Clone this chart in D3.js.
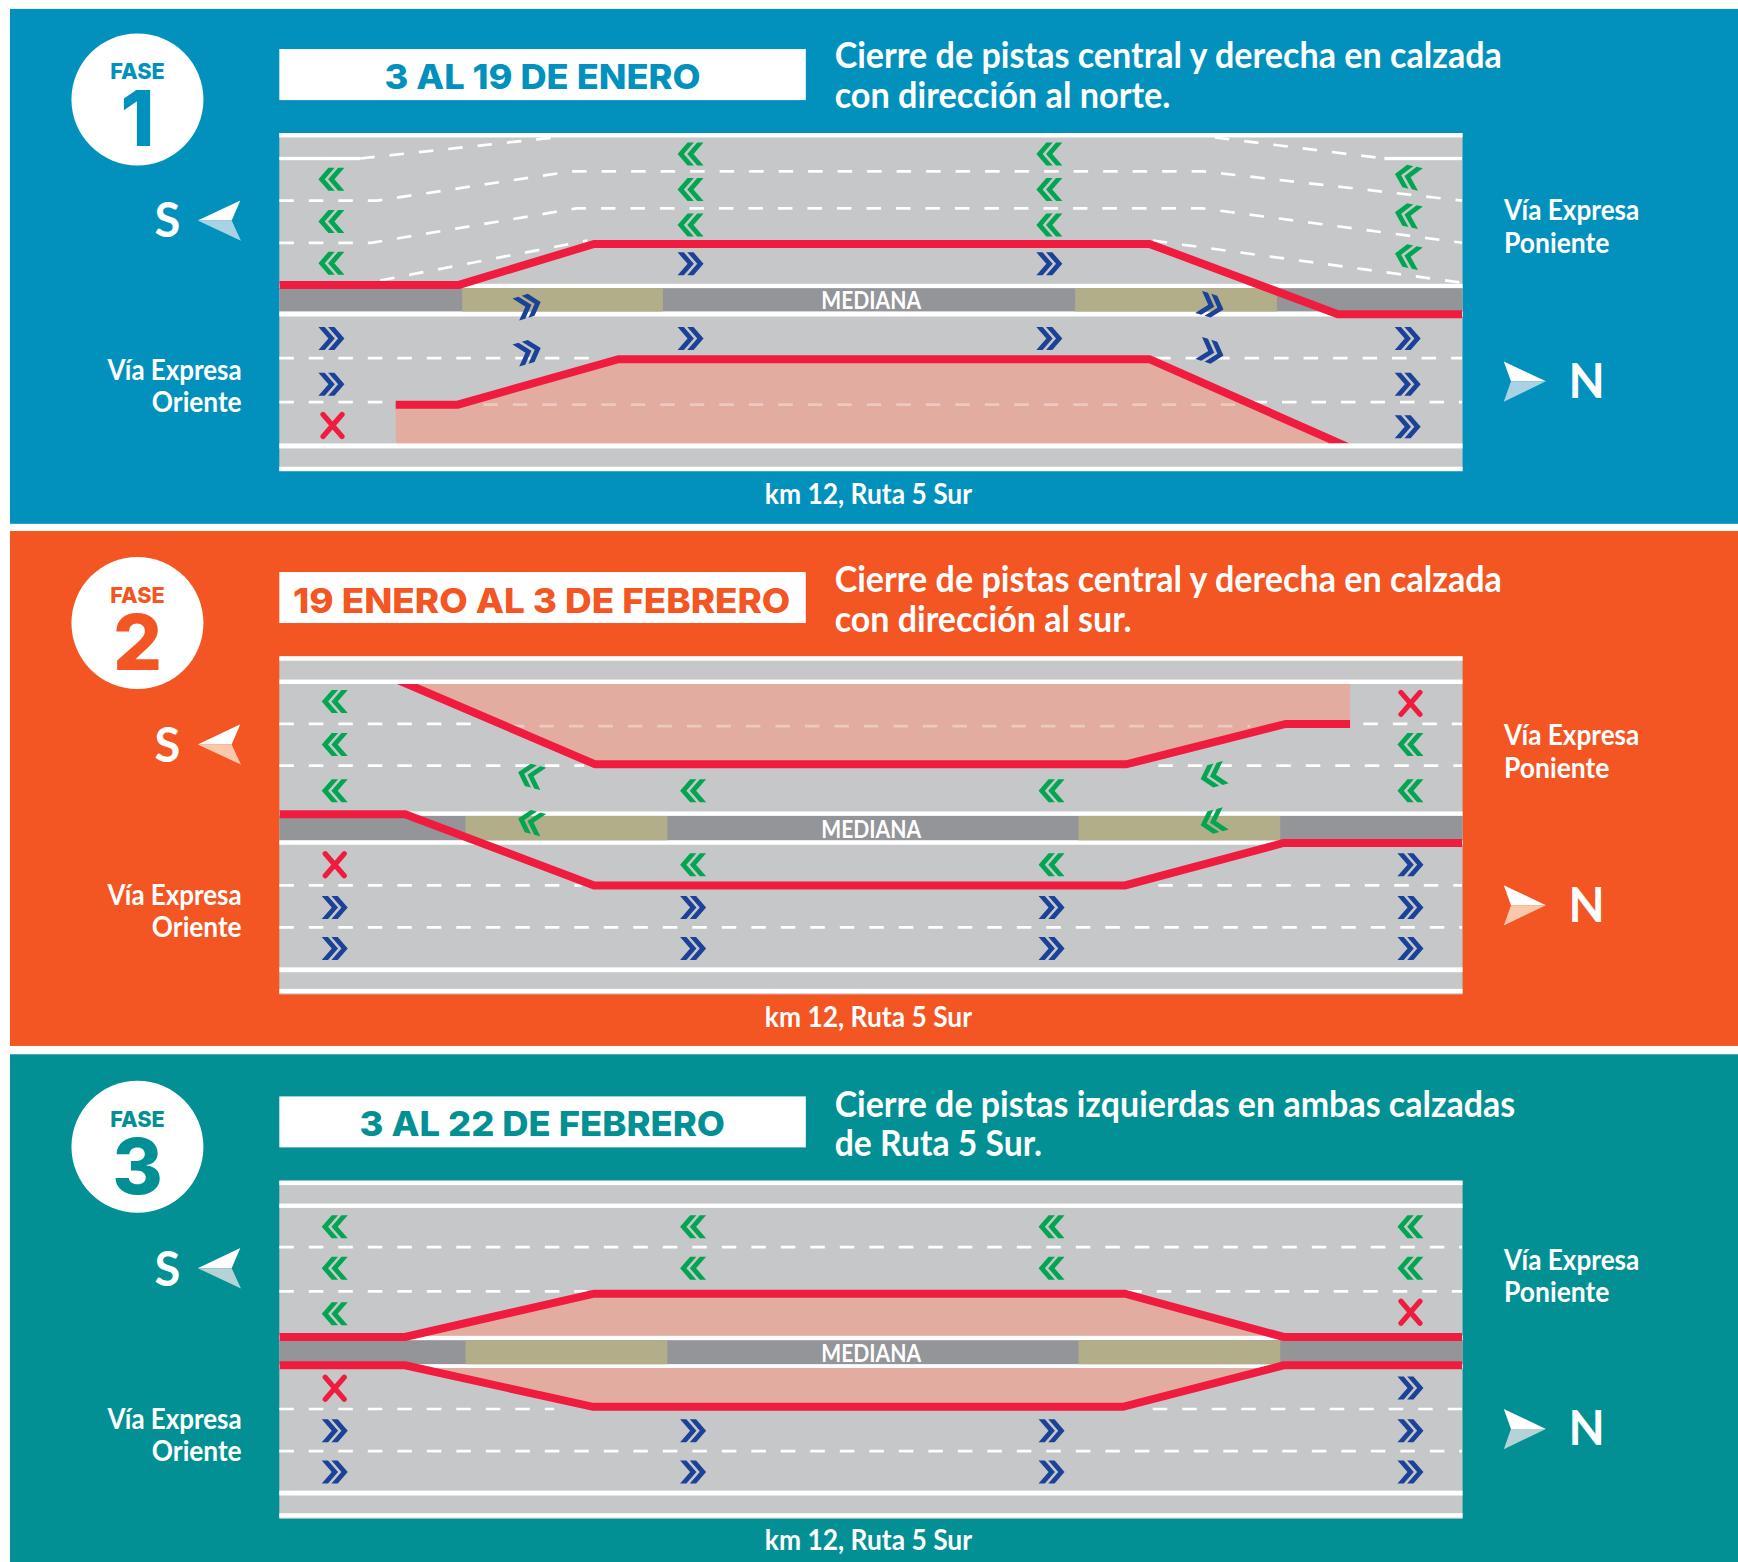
<!DOCTYPE html>
<html lang="es">
<head>
<meta charset="utf-8">
<title>Fases de cierre de pistas, km 12 Ruta 5 Sur</title>
<script src="https://cdn.jsdelivr.net/npm/d3@7"></script>
<style>
html,body{margin:0;padding:0;background:#fff}
svg{display:block}
text{font-family:Lato,"Open Sans",sans-serif;font-weight:700;fill:#fff}
.brand{font-family:Inter,Lato,sans-serif;font-weight:800}
</style>
</head>
<body>
<div id="chart"></div>
<script>
// ---------- content ----------
const phaseNumbers = ["1", "2", "3"];
const phaseWord = "FASE";
const phaseDates = ["3 AL 19 DE ENERO", "19 ENERO AL 3 DE FEBRERO", "3 AL 22 DE FEBRERO"];
const descFirst = ["Cierre de pistas central y derecha en calzada", "Cierre de pistas central y derecha en calzada", "Cierre de pistas izquierdas en ambas calzadas"];
const descSecond = ["con dirección al norte.", "con dirección al sur.", "de Ruta 5 Sur."];
const placeLabel = "km 12, Ruta 5 Sur";
const medianLabel = "MEDIANA";
const westLabel = ["Vía Expresa", "Poniente"];
const eastLabel = ["Vía Expresa", "Oriente"];

// ---------- road readings: [station along road, offset across road] ----------
const closureLines = [
  [[[252,137],[414,137],[536,100],[1037,100],[1207,163.4],[1319,163.4]],
   [[357,245],[413,245],[558,204],[1037,204],[1220,285]]],
  [[[360,21.8],[537,97.5],[1016,97.5],[1160,61],[1218,61]],
   [[252,142.4],[365.5,142.4],[536,206.7],[1015,206.7],[1158,168.4],[1319,168.4]]],
  [[[252,141],[365.5,141],[536,102],[1015,102],[1158,141],[1319,141]],
   [[252,166.6],[365.5,166.6],[535,204],[1013,204],[1158,166.6],[1319,166.6]]]
];
const closedAreas = [
  [[[357,245],[413,245],[558,204],[1037,204],[1210,281],[357,281]]],
  [[[368,25],[537,97],[1016,97],[1160,61],[1218,61],[1218,25]]],
  [[[381,140],[536,102],[1015,102],[1152,140]],
   [[378,169],[535,204],[1013,204],[1152,169]]]
];
const laneDashes = [
  [[[325,23],[500,4]],[[1096,4],[1249,23]],
   [[252,61],[340,61],[516,34.5],[1085,34.5],[1319,61]],
   [[252,99],[335,99],[520,68],[1085,68],[1319,99]],
   [[343,133],[530,97]],[[1040,97],[1319,135]],
   [[252,203],[540,203]],[[1043,203],[1319,203]],
   [[252,242.7],[357,242.7]],[[1130,242.7],[1319,242.7]]],
  [[[252,61],[436,61]],[[1230,61],[1319,61]],
   [[252,98.7],[527,98.7]],[[1045,98.7],[1319,98.7]],
   [[252,206.7],[525,206.7]],[[1045,206.7],[1319,206.7]],
   [[252,244.6],[1319,244.6]]],
  [[[252,60],[1319,60]],
   [[252,99.8],[530,99.8]],[[1017,99.8],[1319,99.8]],
   [[252,206],[500,206]],[[1040,206],[1319,206]],
   [[252,244],[1319,244]]]
];
const closedDashes = [
  [[[436,245],[1115,245]]],
  [[[460,63],[1128,63]]],
  []
];
const solidBands = [
  [[0,4],[280,284.5],[301,305]],
  [[0,4],[21,25],[280.6,285],[300,304]],
  [[0,4],[20.7,24.6],[279.6,284],[300,304]]
];
const shortBands = [
  [[252,325,21.5,24.5],[1249,1319,21.5,24.5]],
  [],
  []
];
const medianBands = [
  {edgeTop:[136,140], core:[140,161], edgeBottom:[161,165.5], works:[[417,598],[970,1152]]},
  {edgeTop:[140,144], core:[144,166], edgeBottom:[166,170], works:[[420,602],[973,1155]]},
  {edgeTop:[139.6,144], core:[144,165.6], edgeBottom:[165.6,169.5], works:[[420,602],[973,1155]]}
];
const redBands = [[0,280],[25,305],[0,305]];

// marks: [station, offset, kind, turn]  kind S = southbound, N = northbound, X = closed lane
const laneMarks = [
  [[299,41.8,"S",0],[299,79.7,"S",0],[299,117.5,"S",0],
   [623,19,"S",0],[623,51,"S",0],[623,83,"S",0],[623,118,"N",0],
   [946.7,19,"S",0],[946.7,51,"S",0],[946.7,83,"S",0],[946.7,118,"N",0],
   [1270,39.4,"S",12],[1270,74,"S",12],[1270,111,"S",12],
   [476.6,155.8,"N",-17],[476.6,197.3,"N",-17],[1092.6,155.8,"N",17],[1092.6,197.3,"N",17],
   [299,185.3,"N",0],[299,226.5,"N",0],[300,263.8,"X",0],
   [623,185.3,"N",0],[946.7,185.3,"N",0],
   [1270,185.3,"N",0],[1270,226.5,"N",0],[1270,265,"N",0]],
  [[302,40.7,"S",0],[302,79.5,"S",0],[302,121.3,"S",0],
   [625.3,121.3,"S",0],[948.7,121.3,"S",0],
   [1272.5,42.5,"X",0],[1272.5,79.5,"S",0],[1272.5,121.3,"S",0],
   [478.8,107.6,"S",15],[478.8,149.3,"S",15],[1094.5,107.6,"S",-15],[1094.5,149.3,"S",-15],
   [302,188,"X",0],[302,226.7,"N",0],[302,263.6,"N",0],
   [625.3,188,"S",0],[625.3,226.7,"N",0],[625.3,263.6,"N",0],
   [948.7,188,"S",0],[948.7,226.7,"N",0],[948.7,263.6,"N",0],
   [1272.5,188,"N",0],[1272.5,226.7,"N",0],[1272.5,263.6,"N",0]],
  [[302,41.7,"S",0],[302,79,"S",0],[302,120,"S",0],
   [625.3,41.7,"S",0],[625.3,79,"S",0],
   [948.7,41.7,"S",0],[948.7,79,"S",0],
   [1272.5,41.7,"S",0],[1272.5,79,"S",0],[1272.5,118.7,"X",0],
   [302,187.3,"X",0],[302,225.7,"N",0],[302,262.8,"N",0],
   [625.3,225.7,"N",0],[625.3,262.8,"N",0],
   [948.7,225.7,"N",0],[948.7,262.8,"N",0],
   [1272.5,187,"N",0],[1272.5,225.7,"N",0],[1272.5,262.8,"N",0]]
];

// ---------- styling ----------
const panelFill = ["#0291bd", "#f35523", "#029094"];
const arrowShade = ["#a9d3e5", "#fbc8ac", "#b5d3d6"];
const roadFill = "#c6c7c9", medianFill = "#949599", worksFill = "#b3ae8a";
const closedFill = "#e2aca0", closureRed = "#ef1c3f";
const southGreen = "#00a651", northBlue = "#1b4298";

// ---------- layout (units of a 1568-wide sheet) ----------
const panelBand = [[8,472.5],[479,943.5],[951,1409]];
const roadTop = [120,592,1065];
const circleY = [89.7,562,1034.5];
const fasePos = [71.6,544,1016.5];
const numberPos = [131.8,604,1077];
const boxBand = [[44.2,90.3],[516,562],[989,1035]];
const dateBase = [80,553,1024.6];
const dateSpan = [[347,632],[264.4,713],[324.4,654]];
const descBase = [[61.6,97.6],[534.4,570.4],[1007.2,1042.6]];
const descLen = [[602,303],[602,268],[614,187]];
const eastBase = [[342.6,371.6],[816.2,845.2],[1289.2,1317.6]];
const westBase = [[198.4,228.1],[671.9,701.6],[1145.6,1174.6]];
const sBase = [214,687,1159.6];
const nBase = [358.7,831.5,1303.5];
const kmBase = [454.6,926.3,1398.3];
const medianBase = [278.6,756.2,1228.8];
const arrowS = [199,671.5,1144];
const arrowN = [344,816.5,1289];

// ---------- scales ----------
const W = 1738, H = 1562;
const sx = d3.scaleLinear().domain([0,1568]).range([0,W]);
const sy = d3.scaleLinear().domain([0,1409]).range([0,H]);
const k = W/1568;

const svg = d3.select("#chart").append("svg").attr("width",W).attr("height",H).attr("viewBox",[0,0,W,H]);
svg.append("rect").attr("width",W).attr("height",H).attr("fill","#fff");
const defs = svg.append("defs");

function fit(sel, x, base, str, width, anchor, size, cls) {
  return sel.append("text").attr("x",sx(x)).attr("y",sy(base))
    .attr("text-anchor",anchor||"start").attr("font-size",size)
    .attr("class",cls||null)
    .attr("textLength",width*k).attr("lengthAdjust","spacingAndGlyphs").text(str);
}

// double chevron glyph, tip to the left, centred on its box
const chev = "M0,0L10,-11.5L16.3,-11.5L6.3,0L16.3,11.5L10,11.5Z M9.7,0L19.7,-11.5L26,-11.5L16,0L26,11.5L19.7,11.5Z";

phaseNumbers.forEach((num,i) => {
  const g = svg.append("g").attr("class","panel");
  const fill = panelFill[i];
  const y = d3.scaleLinear().domain([0,305]).range([sy(roadTop[i]), sy(roadTop[i]+305)]);
  const line = d3.line().x(d=>sx(d[0])).y(d=>y(d[1]));

  g.append("rect").attr("x",sx(9)).attr("y",sy(panelBand[i][0]))
    .attr("width",W-sx(9)).attr("height",sy(panelBand[i][1])-sy(panelBand[i][0])).attr("fill",fill);

  // badge
  g.append("circle").attr("cx",sx(124)).attr("cy",sy(circleY[i])).attr("r",66).attr("fill","#fff");
  g.append("text").attr("class","brand").attr("x",sx(124)).attr("y",sy(fasePos[i])).attr("text-anchor","middle")
    .attr("font-size",22).attr("textLength",49*k).attr("lengthAdjust","spacingAndGlyphs")
    .style("fill",fill).text(phaseWord);
  g.append("text").attr("class","brand").attr("x",sx(124)).attr("y",sy(numberPos[i])).attr("text-anchor","middle")
    .attr("font-size",77).style("fill",fill).text(num);

  // date box
  g.append("rect").attr("x",sx(252)).attr("y",sy(boxBand[i][0])).attr("width",sx(727)-sx(252))
    .attr("height",sy(boxBand[i][1])-sy(boxBand[i][0])).attr("fill","#fff");
  fit(g,dateSpan[i][0],dateBase[i],phaseDates[i],dateSpan[i][1]-dateSpan[i][0],"start",34.5,"brand").style("fill",fill);

  // description
  fit(g,753,descBase[i][0],descFirst[i],descLen[i][0],"start",36);
  fit(g,753,descBase[i][1],descSecond[i],descLen[i][1],"start",36);

  // road
  g.append("rect").attr("x",sx(252)).attr("y",y(0)).attr("width",sx(1319.5)-sx(252)).attr("height",y(305)-y(0)).attr("fill",roadFill);

  g.append("g").selectAll("path").data(laneDashes[i]).join("path")
    .attr("d",line).attr("fill","none").attr("stroke","#fff").attr("stroke-width",2.7).attr("stroke-dasharray","14.5 15");

  // median
  const md = medianBands[i];
  g.append("rect").attr("x",sx(252)).attr("y",y(md.edgeTop[0])).attr("width",sx(1319.5)-sx(252)).attr("height",y(md.edgeTop[1])-y(md.edgeTop[0])).attr("fill","#fff");
  g.append("rect").attr("x",sx(252)).attr("y",y(md.core[0])).attr("width",sx(1319.5)-sx(252)).attr("height",y(md.core[1])-y(md.core[0])).attr("fill",medianFill);
  g.append("rect").attr("x",sx(252)).attr("y",y(md.edgeBottom[0])).attr("width",sx(1319.5)-sx(252)).attr("height",y(md.edgeBottom[1])-y(md.edgeBottom[0])).attr("fill","#fff");
  g.append("g").selectAll("rect").data(md.works).join("rect")
    .attr("x",d=>sx(d[0])).attr("width",d=>sx(d[1])-sx(d[0])).attr("y",y(md.core[0])).attr("height",y(md.core[1])-y(md.core[0])).attr("fill",worksFill);
  fit(g,741,medianBase[i],medianLabel,90,"start",24);

  // closed areas
  g.append("g").selectAll("path").data(closedAreas[i]).join("path")
    .attr("d",d=>line(d)+"Z").attr("fill",closedFill);
  g.append("g").selectAll("path").data(closedDashes[i]).join("path")
    .attr("d",line).attr("fill","none").attr("stroke","#fff").attr("stroke-opacity",0.35).attr("stroke-width",2.7).attr("stroke-dasharray","14.5 15");

  // closure lines
  defs.append("clipPath").attr("id","red"+i).append("rect")
    .attr("x",sx(252)).attr("y",y(redBands[i][0])).attr("width",sx(1319.5)-sx(252)).attr("height",y(redBands[i][1])-y(redBands[i][0]));
  g.append("g").attr("clip-path",`url(#red${i})`).selectAll("path").data(closureLines[i]).join("path")
    .attr("d",line).attr("fill","none").attr("stroke",closureRed).attr("stroke-width",8).attr("stroke-linejoin","miter");

  // edge lines
  g.append("g").selectAll("rect").data(solidBands[i]).join("rect")
    .attr("x",sx(252)).attr("width",sx(1319.5)-sx(252)).attr("y",d=>y(d[0])).attr("height",d=>y(d[1])-y(d[0])).attr("fill","#fff");
  g.append("g").selectAll("rect").data(shortBands[i]).join("rect")
    .attr("x",d=>sx(d[0])).attr("width",d=>sx(d[1])-sx(d[0])).attr("y",d=>y(d[2])).attr("height",d=>y(d[3])-y(d[2])).attr("fill","#fff");

  // lane marks
  const marks = g.append("g").selectAll("g").data(laneMarks[i]).join("g")
    .attr("transform",d=>`translate(${sx(d[0])},${y(d[1])}) rotate(${d[3]})`);
  marks.filter(d=>d[2]==="S").append("path").attr("d",chev).attr("transform","translate(-13,0)").attr("fill",southGreen);
  marks.filter(d=>d[2]==="N").append("path").attr("d",chev).attr("transform","scale(-1,1) translate(-13,0)").attr("fill",northBlue);
  marks.filter(d=>d[2]==="X").append("path").attr("d","M-9.5,-11L9.5,11M9.5,-11L-9.5,11")
    .attr("fill","none").attr("stroke",closureRed).attr("stroke-width",5.2).attr("stroke-linecap","round");

  // side labels
  fit(g,218,eastBase[i][0],eastLabel[0],121,"end",29);
  fit(g,218,eastBase[i][1],eastLabel[1],81,"end",29);
  fit(g,1357,westBase[i][0],westLabel[0],122,"start",29);
  fit(g,1357,westBase[i][1],westLabel[1],95,"start",29);

  // compass
  g.append("text").attr("x",sx(151)).attr("y",sy(sBase[i])).attr("text-anchor","middle").attr("font-size",47).attr("font-weight",600).text("S");
  g.append("text").attr("x",sx(1431.5)).attr("y",sy(nBase[i])).attr("text-anchor","middle").attr("font-size",47).attr("font-weight",600).text("N");
  const ptLine = d3.line().x(d=>sx(d[0])).y(d=>sy(d[1]));
  const sy0 = arrowS[i], ny0 = arrowN[i];
  g.append("path").attr("d",ptLine([[178.4,sy0],[216.8,sy0-18.2],[209,sy0]])+"Z").attr("fill","#fff");
  g.append("path").attr("d",ptLine([[178.4,sy0],[209,sy0],[217.4,sy0+18.2]])+"Z").attr("fill",arrowShade[i]);
  g.append("path").attr("d",ptLine([[1394.7,ny0],[1356.7,ny0-18],[1363.2,ny0]])+"Z").attr("fill","#fff");
  g.append("path").attr("d",ptLine([[1394.7,ny0],[1363.2,ny0],[1356.7,ny0+18.4]])+"Z").attr("fill",arrowShade[i]);

  fit(g,690,kmBase[i],placeLabel,187,"start",28);
});
</script>
</body>
</html>
